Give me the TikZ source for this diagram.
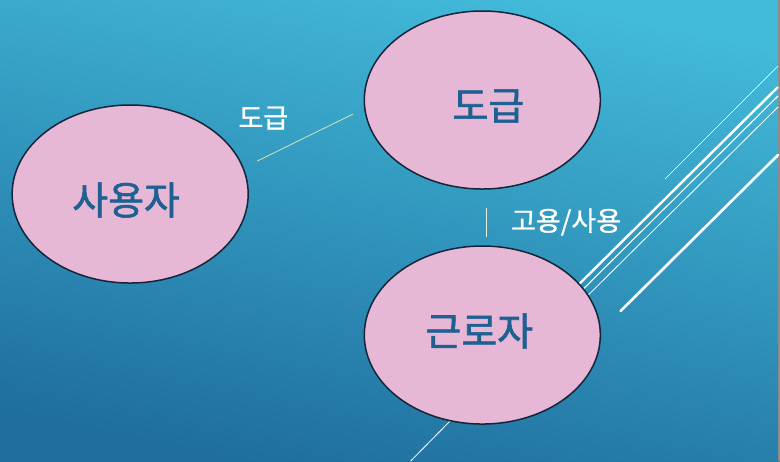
\documentclass[tikz,border=0pt]{standalone}
\usepackage{fontspec}
\usetikzlibrary{shapes.geometric}
\setmainfont{Noto Sans CJK KR}
\newfontfamily\krbold{Noto Sans CJK KR}[FakeBold=1.6]
\newfontfamily\krsemi{Noto Sans CJK KR}[FakeBold=1.0]
\definecolor{bgtop}{RGB}{66,186,217}
\definecolor{bgbot}{RGB}{31,110,158}
\definecolor{pinkfill}{RGB}{230,184,214}
\definecolor{ovaledge}{RGB}{22,36,58}
\definecolor{bluetext}{RGB}{30,96,146}
\definecolor{paleline}{RGB}{214,228,176}
\definecolor{edgegray}{RGB}{140,140,140}
\begin{document}
\begin{tikzpicture}[x=1.009pt,y=-1pt,
  party/.style={ellipse, draw=ovaledge, line width=1.5pt, fill=pinkfill,
    minimum width=236pt, minimum height=178pt, inner sep=0pt},
  ptext/.style={text=bluetext, font=\krbold\fontsize{39}{41}\selectfont, inner sep=0pt},
  lbl/.style={text=white, font=\krsemi\fontsize{27}{30}\selectfont, inner sep=0pt},
  conn/.style={draw=white, line width=0.8pt},
  deco/.style={draw=white}]
\useasboundingbox (0,0) rectangle (773,461);
\shade[top color=bgtop, bottom color=bgbot, shading angle=-12] (0,0) rectangle (773,461);
\fill[edgegray] (771.5,0) rectangle (773,461);
% decorative lines
\coordinate (d1a) at (659,179); \coordinate (d1b) at (771,66);
\coordinate (d2a) at (574,284); \coordinate (d2b) at (771,87);
\coordinate (d3a) at (578,289); \coordinate (d3b) at (771,96);
\coordinate (d4a) at (583,295); \coordinate (d4b) at (771,107);
\coordinate (d5a) at (615,311); \coordinate (d5b) at (771,155);
\draw[deco, line width=0.6pt] (d1a) -- (d1b);
\draw[deco, line width=2.4pt] (d2a) -- (d2b);
\draw[deco, line width=1.1pt] (d3a) -- (d3b);
\draw[deco, line width=0.8pt] (d4a) -- (d4b);
\draw[deco, line width=2.6pt, line cap=round] (d5a) -- (d5b);
% connectors
\coordinate (c1a) at (255,161); \coordinate (c1b) at (350,114);
\draw[draw=paleline, line width=0.8pt] (c1a) -- (c1b);
\coordinate (c2a) at (482,208); \coordinate (c2b) at (482,237);
\draw[draw=paleline!60!white, line width=0.8pt] (c2a) -- (c2b);
\coordinate (c3a) at (446,421); \coordinate (c3b) at (407,461);
\draw[conn] (c3a) -- (c3b);
% parties
\node[party] (user) at (129,194) {};
\node[party] (contract) at (478,100) {};
\node[party] (worker) at (478,335) {};
\node[ptext] (tuser) at (125,200) {사용자};
\node[ptext] (tcontract) at (484,106) {도급};
\node[ptext] (tworker) at (475,331) {근로자};
% labels
\node[lbl] (lcontract) at (261,118) {도급};
\node[lbl] (lemploy) at (561,222) {고용/사용};
\end{tikzpicture}
\end{document}
